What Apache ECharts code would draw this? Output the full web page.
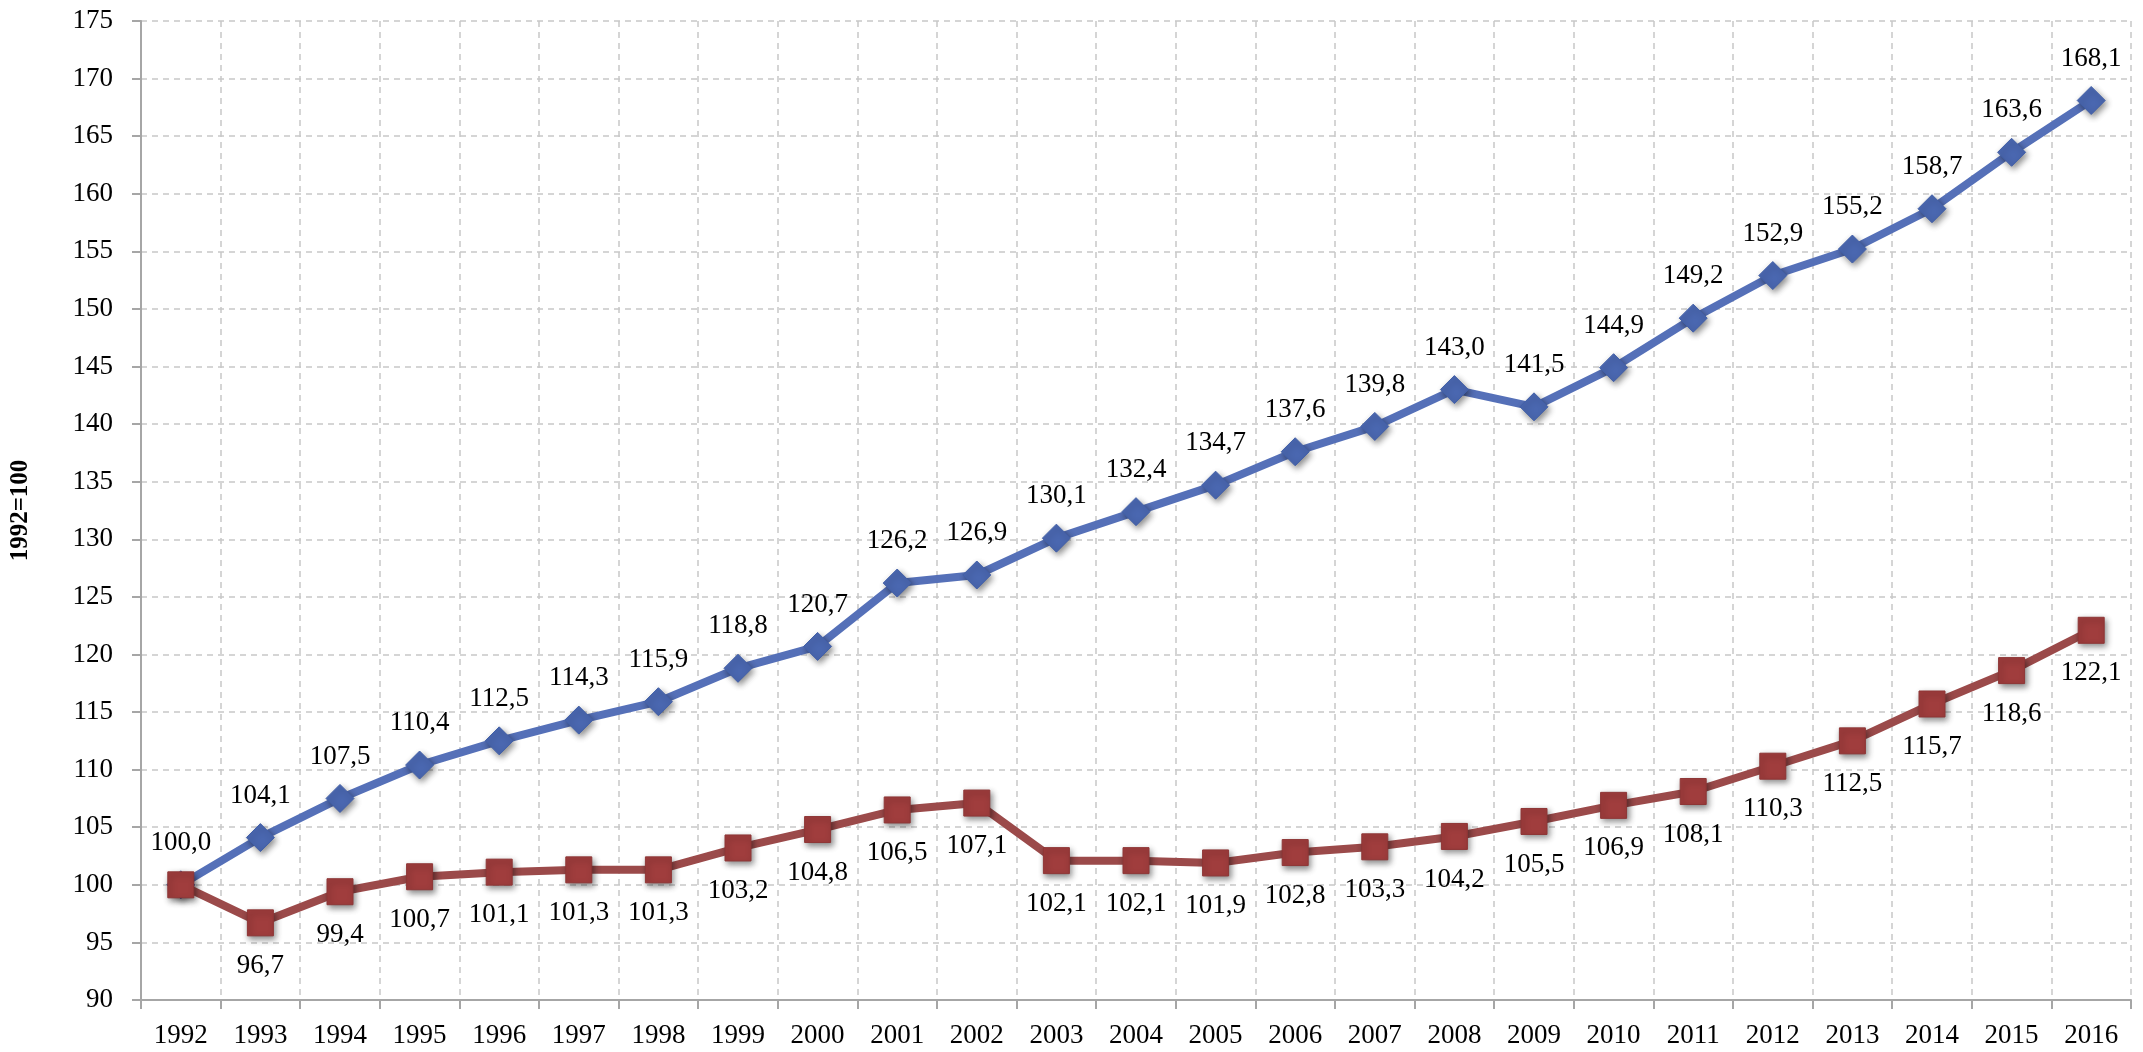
<!DOCTYPE html>
<html>
<head>
<meta charset="utf-8">
<script src="https://cdn.jsdelivr.net/npm/echarts@6/dist/echarts.min.js"></script>
<style>
html,body{margin:0;padding:0;background:#fff;}
#chart{width:2143px;height:1052px;}
</style>
</head>
<body>
<div id="chart"></div>
<script>
var years = ['1992','1993','1994','1995','1996','1997','1998','1999','2000','2001','2002','2003','2004','2005','2006','2007','2008','2009','2010','2011','2012','2013','2014','2015','2016'];
var blueSeries = [100.0,104.1,107.5,110.4,112.5,114.3,115.9,118.8,120.7,126.2,126.9,130.1,132.4,134.7,137.6,139.8,143.0,141.5,144.9,149.2,152.9,155.2,158.7,163.6,168.1];
var redSeries = [100.0,96.7,99.4,100.7,101.1,101.3,101.3,103.2,104.8,106.5,107.1,102.1,102.1,101.9,102.8,103.3,104.2,105.5,106.9,108.1,110.3,112.5,115.7,118.6,122.1];
var yAxisName = '1992=100';

var FONT = "'Liberation Serif', 'DejaVu Serif', serif";
function fmt(p){ return p.value.toFixed(1).replace('.', ','); }

var redData = redSeries.map(function(v, i){
  if (i === 0) return {value: v, label: {show: false}};
  return v;
});

var chart = echarts.init(document.getElementById('chart'), null, {renderer: 'canvas'});
chart.setOption({
  animation: false,
  backgroundColor: '#ffffff',
  grid: {left: 134, right: 12, top: 21, bottom: 52, containLabel: false},
  xAxis: {
    type: 'category',
    data: years,
    boundaryGap: true,
    axisLine: {show: true, lineStyle: {color: '#A6A6A6', width: 2}},
    axisTick: {show: true, length: 9, lineStyle: {color: '#A6A6A6', width: 2}},
    axisLabel: {color: '#000', fontFamily: FONT, fontSize: 27, margin: 22, interval: 0},
    splitLine: {show: true, lineStyle: {color: '#C8C8C8', type: [6, 5], width: 1.5}}
  },
  yAxis: {
    type: 'value',
    min: 90, max: 175, interval: 5,
    name: yAxisName,
    nameLocation: 'middle',
    nameRotate: 90,
    nameGap: 108,
    nameTextStyle: {color: '#000', fontFamily: FONT, fontSize: 25, fontWeight: 'bold'},
    axisLine: {show: true, lineStyle: {color: '#A6A6A6', width: 2}},
    axisTick: {show: true, length: 9, lineStyle: {color: '#A6A6A6', width: 2}},
    axisLabel: {color: '#000', fontFamily: FONT, fontSize: 27, margin: 28},
    splitLine: {show: true, lineStyle: {color: '#C8C8C8', type: [6, 5], width: 1.5}}
  },
  series: [
    {
      type: 'line',
      data: blueSeries,
      symbol: 'diamond',
      symbolSize: 28,
      z: 3,
      lineStyle: {color: '#5570B8', width: 8},
      itemStyle: {color: '#4A67B0', borderColor: '#4260A8', borderWidth: 1,
        shadowBlur: 6, shadowColor: 'rgba(0,0,0,0.45)', shadowOffsetX: 2, shadowOffsetY: 3},
      label: {show: true, position: 'top', distance: 14, formatter: fmt,
        color: '#000', fontFamily: FONT, fontSize: 27}
    },
    {
      type: 'line',
      data: redData,
      symbol: 'rect',
      symbolSize: 26,
      z: 4,
      lineStyle: {color: '#9B4A4A', width: 8},
      itemStyle: {color: '#A03D3D', borderColor: '#8E3636', borderWidth: 1,
        shadowBlur: 6, shadowColor: 'rgba(0,0,0,0.45)', shadowOffsetX: 2, shadowOffsetY: 3},
      label: {show: true, position: 'bottom', distance: 16, formatter: fmt,
        color: '#000', fontFamily: FONT, fontSize: 27}
    }
  ]
});
</script>
</body>
</html>
